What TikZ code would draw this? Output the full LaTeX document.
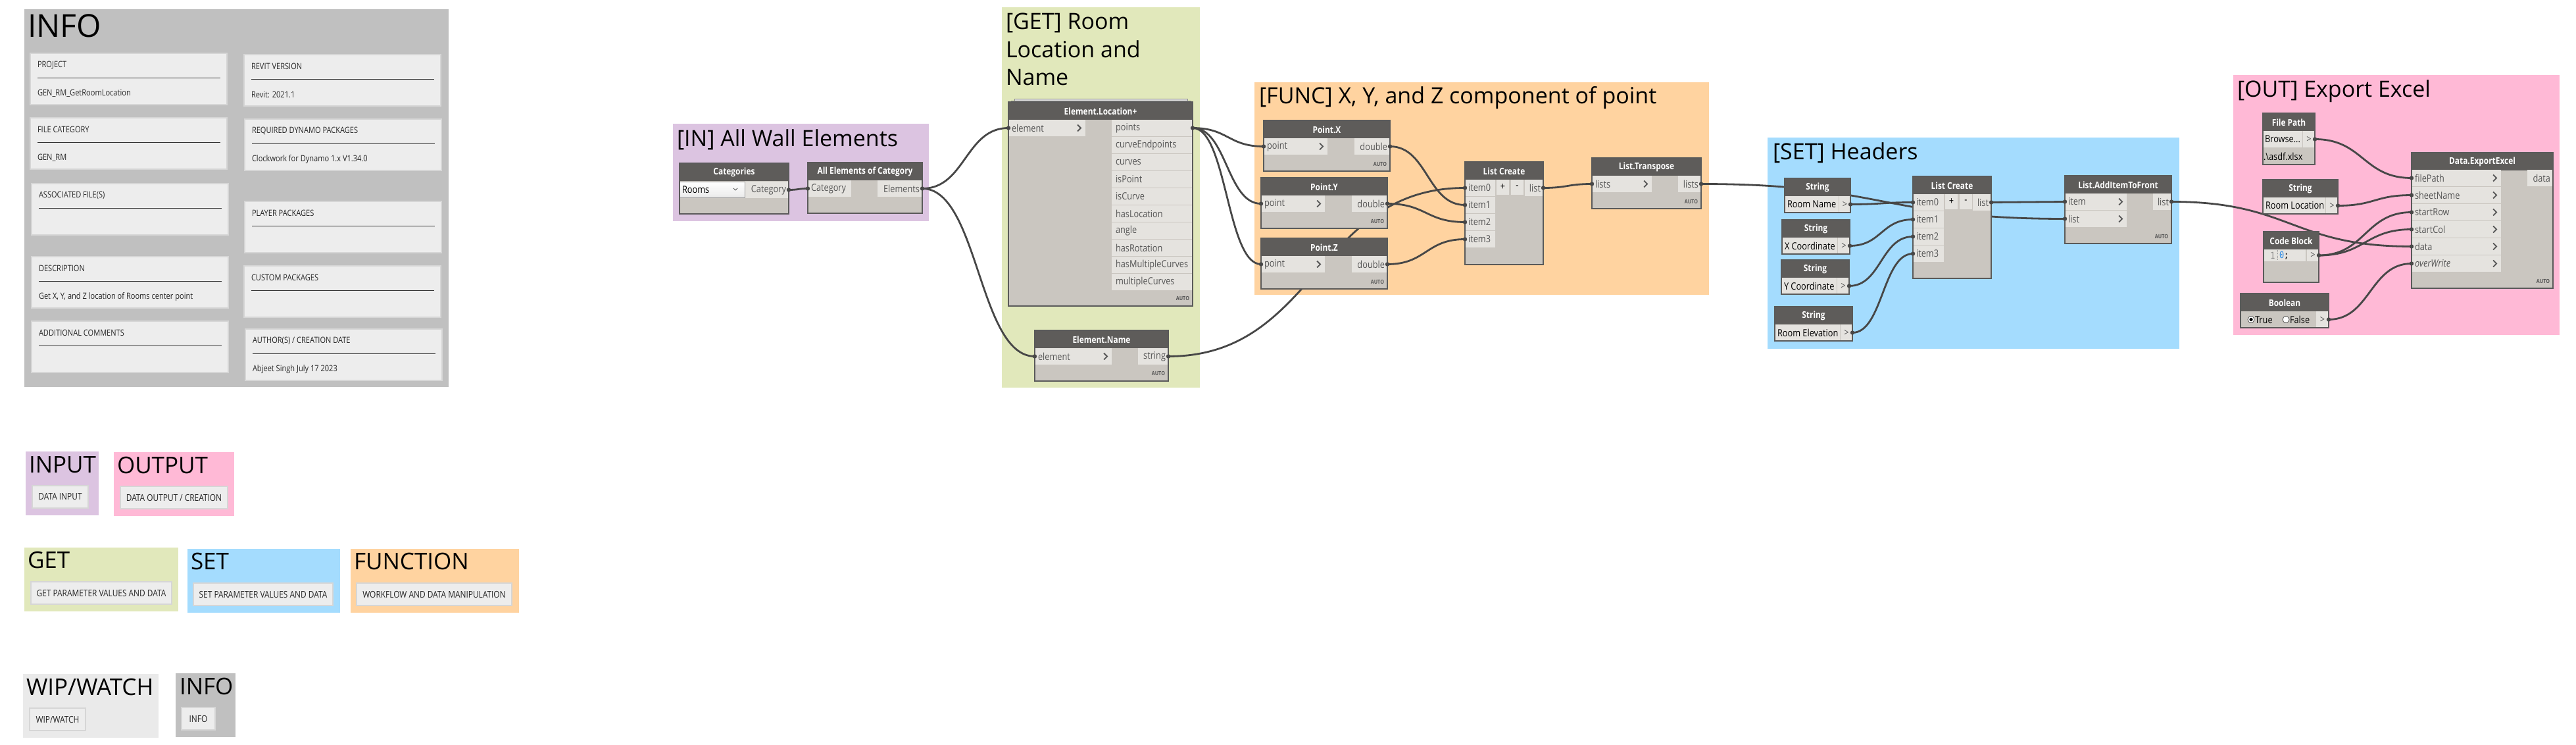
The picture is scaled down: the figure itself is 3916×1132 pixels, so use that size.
\documentclass[tikz,border=0pt]{standalone}
\usepackage{fontspec}
\setmainfont{Open Sans}[FakeStretch=0.85]
\newfontfamily\grpfont{Open Sans}
\newfontfamily\codefont{DejaVu Sans Mono}[FakeStretch=0.85]
\usetikzlibrary{calc}
\pgfdeclarelayer{grp}
\pgfdeclarelayer{wires}
\pgfsetlayers{grp,wires,main}
\definecolor{cIN}{HTML}{DCC4E1}
\definecolor{cGET}{HTML}{E1E8BB}
\definecolor{cFUNC}{HTML}{FFD3A0}
\definecolor{cSET}{HTML}{A4DCFE}
\definecolor{cOUT}{HTML}{FFB9D6}
\definecolor{cINFO}{HTML}{C0C0C0}
\definecolor{cWIP}{HTML}{EAEAEA}
\definecolor{cNote}{HTML}{EDEDED}
\definecolor{noteb}{HTML}{D6D6D6}
\definecolor{hdr}{HTML}{5E5C5A}
\definecolor{body}{HTML}{CAC6C0}
\definecolor{nodeb}{HTML}{5A5A5A}
\definecolor{portc}{HTML}{E5E3DF}
\definecolor{ptext}{HTML}{555555}
\definecolor{wirec}{HTML}{474747}
\definecolor{codeblue}{HTML}{2A8CE8}
\newcommand\setfs[1]{\fontsize{#1}{#1}\selectfont}
\tikzset{
  every node/.style={inner sep=0pt, outer sep=0pt},
  dbody/.style={rectangle, fill=body, draw=nodeb, line width=1.3pt},
  dframe/.style={draw=nodeb, line width=1.3pt},
  htxt/.style={text=white, font=\bfseries\setfs{14}},
  ptxt/.style={text=ptext, font=\setfs{15}},
  vtxt/.style={text=black, font=\setfs{15}},
  autotxt/.style={text=ptext, font=\bfseries\setfs{8.5}},
  chev/.style={draw=ptext, line width=1.8pt},
  wire/.style={draw=wirec, line width=2.8pt},
  pmark/.style={fill=wirec},
  grptitle/.style={text=black, font=\grpfont\setfs{34}, anchor=base west},
  legtitle/.style={text=black, font=\grpfont\setfs{35}, anchor=base west},
  bigtitle/.style={text=black, font=\grpfont\setfs{48}, anchor=base west},
  notebox/.style={rectangle, fill=cNote, draw=noteb, line width=1.2pt},
  notetxt/.style={text=black!85, font=\setfs{13}},
  legtxt/.style={text=black!85, font=\setfs{14}},
  noteline/.style={draw=black!80, line width=1pt},
  stackc/.style={draw=black!45, fill=black!12, line width=0.8pt},
}
% Dynamo node: name, x, y, w, h, title
\newcommand\dnode[6]{%
  \node[dbody, minimum width=#4pt, minimum height=#5pt] (#1) at ({#2+#4/2},{#3+#5/2}) {};
  \fill[hdr] (#2,#3) rectangle ({#2+#4},{#3+27});
  \node[htxt] at ({#2+#4/2},{#3+14}) {#6};}
\newcommand\dframe[1]{\draw[dframe] (#1.north west) rectangle (#1.south east);}
% input port: coord, x, ytop, w, text
\newcommand\inp[5]{%
  \fill[portc] (#2,#3) rectangle ({#2+#4},{#3+25});
  \node[ptxt, anchor=west] at ({#2+5},{#3+12.5}) {#5};
  \coordinate (#1) at (#2,{#3+12.5});}
\newcommand\chev[2]{\draw[chev] ({#1-3},{#2-5}) -- ({#1+2},{#2}) -- ({#1-3},{#2+5});}
\newcommand\inpc[5]{\inp{#1}{#2}{#3}{#4}{#5}\chev{#2+#4-9}{#3+12.5}}
% output port right aligned: coord, xleft, ytop, w, text
\newcommand\outp[5]{%
  \fill[portc] (#2,#3) rectangle ({#2+#4},{#3+25});
  \node[ptxt, anchor=east] at ({#2+#4-4},{#3+12.5}) {#5};
  \coordinate (#1) at ({#2+#4},{#3+12.5});}
% output port left aligned
\newcommand\outpl[5]{%
  \fill[portc] (#2,#3) rectangle ({#2+#4},{#3+25});
  \node[ptxt, anchor=west] at ({#2+6},{#3+12.5}) {#5};
  \coordinate (#1) at ({#2+#4},{#3+12.5});}
\newcommand\autolab[2]{\node[autotxt, anchor=east] at (#1,#2) {AUTO};}
% string input node: name, x, y, w, wt, value
\newcommand\strnode[6]{%
  \dnode{#1}{#2}{#3}{#4}{52}{String}
  \fill[portc] (#2,{#3+27}) rectangle ({#2+#5},{#3+52});
  \node[vtxt, anchor=west] at ({#2+4},{#3+39.5}) {#6};
  \fill[portc] ({#2+#5+1},{#3+27}) rectangle ({#2+#4},{#3+52});
  \node[ptxt] at ({#2+(#5+1+#4)/2},{#3+39.5}) {>};
  \coordinate (#1O) at ({#2+#4},{#3+39.5});
  \dframe{#1}}
% info box: name, x, y, label, value
\newcommand\infobox[5]{%
  \node[notebox, minimum width=299pt, minimum height=78pt] (#1) at ({#2+149.5},{#3+39}) {};
  \node[notetxt, anchor=west] at ({#2+11},{#3+18}) {#4};
  \draw[noteline] ({#2+11},{#3+37}) -- ({#2+289},{#3+37});
  \node[notetxt, anchor=west] at ({#2+11},{#3+61}) {#5};}
\newcommand\wire[2]{\draw[wire] let \p1=(#1), \p2=(#2), \p3=($(#1)!0.5!(#2)$) in (\p1) .. controls (\x3,\y1) and (\x3,\y2) .. (\p2);}
\begin{document}
\begin{tikzpicture}[x=1pt,y=-1pt]
\useasboundingbox (0,0) rectangle (3916,1132);
\begin{pgfonlayer}{grp}
\fill[white] (0,0) rectangle (3916,1132);
% ---------- INFO panel ----------
\fill[cINFO] (37,14) rectangle (682,588);
\node[bigtitle] (infotitle) at (42,57) {INFO};
% ---------- legend ----------
\fill[cIN] (39,686) rectangle (150,783);
\node[legtitle] (lgin) at (44,718) {INPUT};
\fill[cOUT] (173,687) rectangle (356,784);
\node[legtitle] (lgout) at (178,719) {OUTPUT};
\fill[cGET] (37,832) rectangle (271,929);
\node[legtitle] (lgget) at (42,863) {GET};
\fill[cSET] (285,834) rectangle (517,931);
\node[legtitle] (lgset) at (290,865) {SET};
\fill[cFUNC] (533,834) rectangle (789,931);
\node[legtitle] (lgfunc) at (538,865) {FUNCTION};
\fill[cWIP] (35,1024) rectangle (241,1121);
\node[legtitle] (lgwip) at (40,1056) {WIP/WATCH};
\fill[cINFO] (267,1023) rectangle (358,1120);
\node[legtitle] (lginfo) at (273,1055) {INFO};
% ---------- graph groups ----------
\fill[cIN] (1023,188) rectangle (1412,336);
\node[grptitle] (tin) at (1029,222) {[IN] All Wall Elements};
\fill[cGET] (1523,11) rectangle (1824,589);
\node[grptitle] (tget1) at (1529,45) {[GET] Room};
\node[grptitle] (tget2) at (1529,87) {Location and};
\node[grptitle] (tget3) at (1529,129) {Name};
\fill[cFUNC] (1907,125) rectangle (2598,448);
\node[grptitle] (tfunc) at (1914,157) {[FUNC] X, Y, and Z component of point};
\fill[cSET] (2687,209) rectangle (3313,530);
\node[grptitle] (tset) at (2695,242) {[SET] Headers};
\fill[cOUT] (3395,114) rectangle (3891,509);
\node[grptitle] (tout) at (3401,147) {[OUT] Export Excel};
\end{pgfonlayer}
% info boxes
\infobox{ibproj}{46}{81}{PROJECT}{GEN\_RM\_GetRoomLocation}
\infobox{ibrev}{371}{83}{REVIT VERSION}{Revit: 2021.1}
\infobox{ibcat}{46}{179}{FILE CATEGORY}{GEN\_RM}
\infobox{ibreq}{372}{181}{REQUIRED DYNAMO PACKAGES}{Clockwork for Dynamo 1.x V1.34.0}
\infobox{ibassoc}{48}{279}{ASSOCIATED FILE(S)}{}
\infobox{ibplay}{372}{306}{PLAYER PACKAGES}{}
\infobox{ibdesc}{48}{390}{DESCRIPTION}{Get X, Y, and Z location of Rooms center point}
\infobox{ibcust}{371}{404}{CUSTOM PACKAGES}{}
\infobox{ibadd}{48}{488}{ADDITIONAL COMMENTS}{}
\infobox{ibauth}{373}{500}{AUTHOR(S) / CREATION DATE}{Abjeet Singh July 17 2023}
% legend notes
\node[notebox, legtxt, minimum width=85pt, minimum height=34pt] (nin) at (91.5,755) {DATA INPUT};
\node[notebox, legtxt, minimum width=163pt, minimum height=34pt] (nout) at (264.5,756) {DATA OUTPUT / CREATION};
\node[notebox, legtxt, minimum width=214pt, minimum height=34pt] (nget) at (154,901) {GET PARAMETER VALUES AND DATA};
\node[notebox, legtxt, minimum width=212pt, minimum height=34pt] (nset) at (400,903) {SET PARAMETER VALUES AND DATA};
\node[notebox, legtxt, minimum width=236pt, minimum height=34pt] (nfunc) at (660,903) {WORKFLOW AND DATA MANIPULATION};
\node[notebox, legtxt, minimum width=85pt, minimum height=34pt] (nwip) at (87.5,1093) {WIP/WATCH};
\node[notebox, legtxt, minimum width=51pt, minimum height=34pt] (ninfo) at (301.5,1092) {INFO};
% ---------- Categories ----------
\dnode{cat}{1033}{248}{166}{77}{Categories}
\node[rectangle, draw=black!40, top color=white, bottom color=black!8, minimum width=99pt, minimum height=24pt, anchor=north west] (catdd) at (1033,276) {};
\node[vtxt, anchor=west] at (1037,288) {Rooms};
\draw[ptext, line width=0.8pt] (1115,286) -- (1118,289) -- (1121,286);
\outp{catO}{1133}{276}{66}{Category}
\dframe{cat}
% ---------- All Elements of Category ----------
\dnode{ae}{1228}{247}{174}{77}{All Elements of Category}
\inp{aeI}{1228}{274}{66}{Category}
\outp{aeO}{1334}{274}{68}{Elements}
\dframe{ae}
% ---------- Element.Location+ ----------
\draw[stackc] (1542,150) rectangle (1805,156);
\draw[stackc] (1537,153) rectangle (1810,157);
\dnode{el}{1533}{155}{280}{310}{Element.Location+}
\inpc{elI}{1533}{182}{117}{element}
\outpl{elO1}{1690}{182}{123}{points}
\outpl{elO2}{1690}{208}{123}{curveEndpoints}
\outpl{elO3}{1690}{234}{123}{curves}
\outpl{elO4}{1690}{260}{123}{isPoint}
\outpl{elO5}{1690}{286}{123}{isCurve}
\outpl{elO6}{1690}{312}{123}{hasLocation}
\outpl{elO7}{1690}{338}{123}{angle}
\outpl{elO8}{1690}{364}{123}{hasRotation}
\outpl{elO9}{1690}{390}{123}{hasMultipleCurves}
\outpl{elO10}{1690}{416}{123}{multipleCurves}
\autolab{1808}{453}
\dframe{el}
% ---------- Element.Name ----------
\dnode{en}{1573}{502}{203}{77}{Element.Name}
\inpc{enI}{1573}{529}{117}{element}
\outp{enO}{1730}{529}{46}{string}
\autolab{1771}{567}
\dframe{en}
% ---------- Point.X / Y / Z ----------
\dnode{px}{1921}{183}{192}{77}{Point.X}
\inpc{pxI}{1921}{210}{97}{point}
\outp{pxO}{2059}{210}{54}{double}
\autolab{2108}{249}
\dframe{px}
\dnode{py}{1917}{270}{192}{77}{Point.Y}
\inpc{pyI}{1917}{297}{97}{point}
\outp{pyO}{2055}{297}{54}{double}
\autolab{2104}{336}
\dframe{py}
\dnode{pz}{1917}{362}{192}{77}{Point.Z}
\inpc{pzI}{1917}{389}{97}{point}
\outp{pzO}{2055}{389}{54}{double}
\autolab{2104}{428}
\dframe{pz}
% ---------- List Create (FUNC) ----------
\dnode{flc}{2227}{246}{119}{156}{List Create}
\inp{flcI0}{2227}{273}{46}{item0}
\inp{flcI1}{2227}{299}{46}{item1}
\inp{flcI2}{2227}{325}{46}{item2}
\inp{flcI3}{2227}{351}{46}{item3}
\fill[portc] (2275,273) rectangle (2294,296);
\node[vtxt] at (2284.5,284) {+};
\fill[portc] (2297,273) rectangle (2316,296);
\node[vtxt] at (2306.5,284) {-};
\outp{flcO}{2318}{273}{28}{list}
\dframe{flc}
% ---------- List.Transpose ----------
\dnode{tr}{2420}{240}{166}{77}{List.Transpose}
\inpc{trI}{2420}{267}{91}{lists}
\outp{trO}{2551}{267}{35}{lists}
\autolab{2581}{306}
\dframe{tr}
% ---------- SET strings ----------
\strnode{s1}{2713}{271}{100}{82}{Room Name}
\strnode{s2}{2709}{334}{103}{84}{X Coordinate}
\strnode{s3}{2708}{395}{103}{84}{Y Coordinate}
\strnode{s4}{2698}{466}{118}{99}{Room Elevation}
% ---------- List Create (SET) ----------
\dnode{slc}{2908}{268}{119}{155}{List Create}
\inp{slcI0}{2908}{295}{47}{item0}
\inp{slcI1}{2908}{321}{47}{item1}
\inp{slcI2}{2908}{347}{47}{item2}
\inp{slcI3}{2908}{373}{47}{item3}
\fill[portc] (2957,295) rectangle (2976,318);
\node[vtxt] at (2966.5,306) {+};
\fill[portc] (2979,295) rectangle (2998,318);
\node[vtxt] at (2988.5,306) {-};
\outp{slcO}{2999}{295}{28}{list}
\dframe{slc}
% ---------- List.AddItemToFront ----------
\dnode{atf}{3139}{267}{162}{103}{List.AddItemToFront}
\inpc{atfI1}{3139}{294}{94}{item}
\inpc{atfI2}{3139}{320}{94}{list}
\outp{atfO}{3273}{294}{28}{list}
\autolab{3296}{359}
\dframe{atf}
% ---------- File Path ----------
\dnode{fp}{3440}{172}{79}{78}{File Path}
\fill[portc] (3440,199) rectangle (3500,224);
\node[vtxt, anchor=west] at (3443,211.5) {Browse...};
\fill[portc] (3501,199) rectangle (3519,224);
\node[ptxt] at (3510,211.5) {>};
\coordinate (fpO) at (3519,211.5);
\node[vtxt, anchor=west] at (3441,238) {.\textbackslash asdf.xlsx};
\dframe{fp}
% ---------- String Room Location ----------
\strnode{sr}{3440}{273}{114}{95}{Room Location}
% ---------- Code Block ----------
\dnode{cb}{3441}{352}{84}{77}{Code Block}
\fill[portc] (3441,379) rectangle (3505,397);
\node[text=black!45, font=\codefont\setfs{14}] at (3455,388) {1};
\draw[black!40, densely dotted, line width=0.8pt] (3462,380) -- (3462,396);
\node[anchor=west, font=\codefont\setfs{14}] at (3465,388) {\textcolor{codeblue}{0};};
\fill[portc] (3507,379) rectangle (3525,397);
\node[ptxt] at (3516,388) {>};
\coordinate (cbO) at (3525,388);
\dframe{cb}
% ---------- Boolean ----------
\dnode{bo}{3406}{446}{134}{52}{Boolean}
\fill[portc] (3521,473) rectangle (3540,498);
\node[ptxt] at (3530.5,485.5) {>};
\draw[fill=white, draw=black!70, line width=0.8pt] (3422,485.5) circle (5pt);
\fill[black] (3422,485.5) circle (2.6pt);
\node[vtxt, anchor=west] at (3428,486) {True};
\draw[fill=white, draw=black!70, line width=0.8pt] (3475,485.5) circle (5pt);
\node[vtxt, anchor=west] at (3481,486) {False};
\coordinate (boO) at (3540,485.5);
\dframe{bo}
% ---------- Data.ExportExcel ----------
\dnode{ex}{3666}{232}{215}{206}{Data.ExportExcel}
\inpc{exI1}{3666}{258}{136}{filePath}
\inpc{exI2}{3666}{284}{136}{sheetName}
\inpc{exI3}{3666}{310}{136}{startRow}
\inpc{exI4}{3666}{336}{136}{startCol}
\inpc{exI5}{3666}{362}{136}{data}
\inpc{exI6}{3666}{388}{136}{\itshape overWrite}
\outp{exO}{3842}{258}{39}{data}
\autolab{3876}{427}
\dframe{ex}
% ---------- wires ----------
\begin{pgfonlayer}{wires}
\wire{catO}{aeI}
\wire{aeO}{elI}
\wire{aeO}{enI}
\wire{elO1}{pxI}
\wire{elO1}{pyI}
\wire{elO1}{pzI}
\wire{enO}{flcI0}
\wire{pxO}{flcI1}
\wire{pyO}{flcI2}
\wire{pzO}{flcI3}
\wire{flcO}{trI}
\wire{trO}{atfI2}
\wire{s1O}{slcI0}
\wire{s2O}{slcI1}
\wire{s3O}{slcI2}
\wire{s4O}{slcI3}
\wire{slcO}{atfI1}
\wire{atfO}{exI5}
\wire{fpO}{exI1}
\wire{srO}{exI2}
\wire{cbO}{exI3}
\wire{cbO}{exI4}
\wire{boO}{exI6}
\end{pgfonlayer}
\foreach \c in {catO,aeI,aeO,elI,elO1,enI,enO,pxI,pyI,pzI,pxO,pyO,pzO,flcI0,flcI1,flcI2,flcI3,flcO,trI,trO,s1O,s2O,s3O,s4O,slcI0,slcI1,slcI2,slcI3,slcO,atfI1,atfI2,atfO,fpO,srO,cbO,boO,exI1,exI2,exI3,exI4,exI5,exI6}
  \fill[pmark] (\c) circle (3.2pt);
\end{tikzpicture}
\end{document}
